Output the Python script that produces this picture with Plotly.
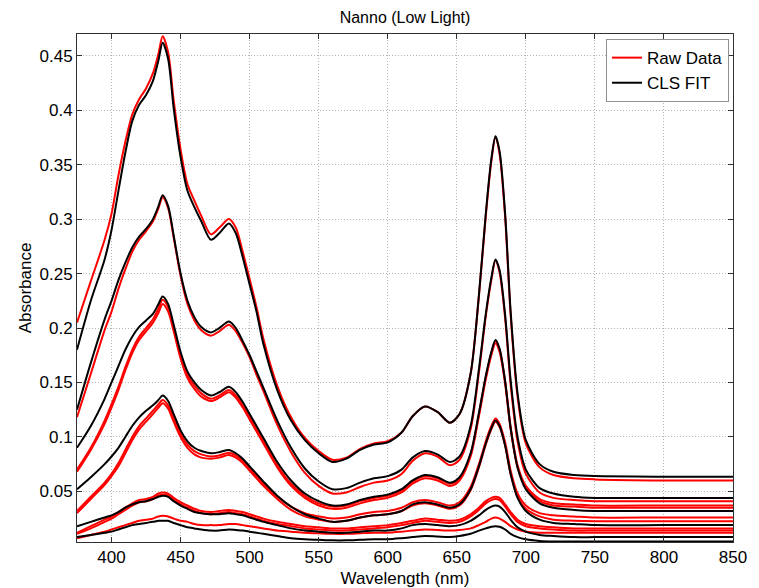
import plotly.graph_objects as go

# Wavelength knots (nm)
WL = [375, 385, 395, 400, 405, 410, 415, 420, 425, 430, 434, 437, 441, 445, 450, 455, 460, 465, 472, 478,
      485, 490, 495, 500, 505, 510, 520, 530, 540, 550, 560, 570, 580, 590, 600, 610, 618, 627, 636, 645,
      652, 660, 666, 671, 675, 678, 681, 685, 689, 694, 700, 710, 720, 735, 750, 800, 850]

# CLS fit (black)
B1 = [0.180, 0.225, 0.263, 0.290, 0.326, 0.361, 0.390, 0.405, 0.414, 0.427, 0.446, 0.462, 0.447, 0.402, 0.357, 0.326, 0.311, 0.298, 0.281, 0.287,
      0.296, 0.287, 0.265, 0.240, 0.215, 0.185, 0.143, 0.115, 0.097, 0.085, 0.077, 0.080, 0.088, 0.093, 0.095, 0.104, 0.119, 0.128, 0.123, 0.113,
      0.121, 0.158, 0.230, 0.305, 0.355, 0.376, 0.362, 0.305, 0.215, 0.140, 0.097, 0.075, 0.068, 0.065, 0.064, 0.0635, 0.0635]
B2 = [0.125, 0.168, 0.208, 0.225, 0.244, 0.260, 0.274, 0.284, 0.291, 0.300, 0.312, 0.322, 0.312, 0.285, 0.250, 0.225, 0.210, 0.201, 0.196, 0.200,
      0.206, 0.200, 0.188, 0.175, 0.160, 0.145, 0.115, 0.090, 0.071, 0.059, 0.052, 0.053, 0.058, 0.062, 0.064, 0.070, 0.081, 0.087, 0.084, 0.077,
      0.082, 0.110, 0.162, 0.213, 0.246, 0.263, 0.253, 0.212, 0.152, 0.100, 0.070, 0.053, 0.048, 0.045, 0.044, 0.044, 0.044]
B3 = [0.090, 0.110, 0.135, 0.150, 0.165, 0.180, 0.192, 0.201, 0.207, 0.213, 0.222, 0.229, 0.222, 0.203, 0.178, 0.160, 0.150, 0.143, 0.138, 0.141,
      0.146, 0.141, 0.132, 0.121, 0.110, 0.099, 0.077, 0.060, 0.048, 0.041, 0.037, 0.038, 0.042, 0.045, 0.047, 0.052, 0.060, 0.065, 0.063, 0.058,
      0.063, 0.085, 0.122, 0.156, 0.178, 0.189, 0.181, 0.151, 0.108, 0.072, 0.052, 0.039, 0.035, 0.033, 0.032, 0.032, 0.032]
B4 = [0.052, 0.063, 0.075, 0.082, 0.090, 0.100, 0.110, 0.118, 0.124, 0.129, 0.134, 0.138, 0.133, 0.121, 0.106, 0.096, 0.090, 0.087, 0.085, 0.086,
      0.088, 0.085, 0.080, 0.073, 0.066, 0.059, 0.046, 0.036, 0.029, 0.025, 0.022, 0.023, 0.026, 0.028, 0.029, 0.032, 0.038, 0.040, 0.038, 0.035,
      0.038, 0.052, 0.073, 0.094, 0.108, 0.115, 0.110, 0.092, 0.066, 0.044, 0.032, 0.024, 0.021, 0.020, 0.019, 0.019, 0.019]
B5 = [0.018, 0.022, 0.026, 0.028, 0.031, 0.035, 0.038, 0.040, 0.041, 0.043, 0.045, 0.046, 0.045, 0.041, 0.037, 0.034, 0.031, 0.030, 0.029, 0.029,
      0.030, 0.029, 0.028, 0.026, 0.024, 0.022, 0.019, 0.016, 0.014, 0.013, 0.012, 0.012, 0.013, 0.014, 0.014, 0.016, 0.019, 0.020, 0.019, 0.018,
      0.019, 0.023, 0.028, 0.033, 0.036, 0.037, 0.036, 0.031, 0.024, 0.017, 0.013, 0.010, 0.009, 0.008, 0.008, 0.008, 0.008]
B6 = [0.008, 0.010, 0.012, 0.013, 0.015, 0.017, 0.019, 0.020, 0.021, 0.022, 0.023, 0.023, 0.023, 0.021, 0.019, 0.017, 0.016, 0.015, 0.014, 0.014,
      0.015, 0.0145, 0.014, 0.013, 0.012, 0.011, 0.009, 0.007, 0.006, 0.0055, 0.005, 0.005, 0.0055, 0.006, 0.006, 0.007, 0.008, 0.009, 0.0085, 0.008,
      0.009, 0.011, 0.014, 0.016, 0.0175, 0.018, 0.0175, 0.015, 0.011, 0.008, 0.006, 0.0045, 0.004, 0.004, 0.004, 0.004, 0.004]

# Raw data (red)
R1 = [0.205, 0.243, 0.281, 0.305, 0.340, 0.371, 0.396, 0.410, 0.420, 0.434, 0.452, 0.468, 0.453, 0.409, 0.364, 0.332, 0.317, 0.303, 0.286, 0.292,
      0.300, 0.292, 0.270, 0.245, 0.219, 0.190, 0.147, 0.118, 0.099, 0.087, 0.079, 0.081, 0.089, 0.094, 0.096, 0.104, 0.119, 0.128, 0.123, 0.113,
      0.121, 0.158, 0.229, 0.303, 0.353, 0.375, 0.360, 0.302, 0.212, 0.137, 0.094, 0.072, 0.065, 0.062, 0.061, 0.060, 0.060]
R2 = [0.118, 0.158, 0.198, 0.215, 0.236, 0.254, 0.270, 0.281, 0.289, 0.298, 0.310, 0.320, 0.310, 0.283, 0.248, 0.222, 0.207, 0.198, 0.193, 0.197,
      0.203, 0.197, 0.186, 0.173, 0.157, 0.142, 0.111, 0.086, 0.067, 0.055, 0.048, 0.049, 0.054, 0.058, 0.060, 0.066, 0.078, 0.085, 0.082, 0.074,
      0.079, 0.107, 0.159, 0.211, 0.244, 0.262, 0.251, 0.209, 0.148, 0.096, 0.066, 0.049, 0.044, 0.042, 0.041, 0.041, 0.041]
R3a = [0.070, 0.090, 0.115, 0.130, 0.146, 0.164, 0.180, 0.192, 0.200, 0.208, 0.218, 0.226, 0.219, 0.200, 0.175, 0.157, 0.147, 0.140, 0.135, 0.138,
       0.143, 0.138, 0.129, 0.118, 0.107, 0.096, 0.074, 0.057, 0.046, 0.039, 0.036, 0.037, 0.041, 0.044, 0.046, 0.051, 0.059, 0.064, 0.062, 0.057,
       0.062, 0.084, 0.121, 0.155, 0.177, 0.188, 0.180, 0.151, 0.109, 0.074, 0.055, 0.043, 0.039, 0.038, 0.037, 0.037, 0.037]
R3b = [0.068, 0.088, 0.112, 0.127, 0.143, 0.161, 0.177, 0.189, 0.197, 0.205, 0.214, 0.222, 0.215, 0.197, 0.172, 0.154, 0.144, 0.137, 0.133, 0.136,
       0.141, 0.136, 0.127, 0.116, 0.105, 0.094, 0.072, 0.055, 0.044, 0.037, 0.034, 0.035, 0.039, 0.042, 0.044, 0.049, 0.057, 0.062, 0.060, 0.055,
       0.060, 0.082, 0.119, 0.153, 0.175, 0.186, 0.178, 0.149, 0.107, 0.072, 0.053, 0.041, 0.037, 0.036, 0.035, 0.035, 0.035]
R4a = [0.032, 0.045, 0.058, 0.066, 0.076, 0.088, 0.100, 0.110, 0.117, 0.124, 0.130, 0.134, 0.129, 0.117, 0.103, 0.093, 0.087, 0.084, 0.082, 0.083,
       0.0855, 0.083, 0.078, 0.071, 0.064, 0.057, 0.045, 0.036, 0.030, 0.027, 0.025, 0.026, 0.029, 0.031, 0.032, 0.035, 0.040, 0.042, 0.040, 0.037,
       0.040, 0.054, 0.075, 0.096, 0.110, 0.117, 0.112, 0.095, 0.069, 0.048, 0.037, 0.030, 0.028, 0.027, 0.026, 0.026, 0.026]
R4b = [0.030, 0.043, 0.056, 0.064, 0.073, 0.085, 0.097, 0.107, 0.114, 0.121, 0.127, 0.131, 0.126, 0.114, 0.100, 0.090, 0.084, 0.081, 0.080, 0.081,
       0.0833, 0.081, 0.076, 0.069, 0.062, 0.055, 0.043, 0.033, 0.027, 0.024, 0.022, 0.023, 0.026, 0.028, 0.029, 0.032, 0.037, 0.039, 0.037, 0.034,
       0.037, 0.051, 0.072, 0.093, 0.107, 0.114, 0.109, 0.092, 0.066, 0.045, 0.034, 0.027, 0.024, 0.023, 0.0225, 0.0225, 0.0225]
R5a = [0.012, 0.018, 0.024, 0.027, 0.031, 0.035, 0.039, 0.042, 0.043, 0.045, 0.048, 0.049, 0.048, 0.044, 0.040, 0.037, 0.034, 0.032, 0.031, 0.032,
       0.033, 0.032, 0.031, 0.029, 0.027, 0.025, 0.022, 0.020, 0.018, 0.017, 0.016, 0.016, 0.017, 0.018, 0.019, 0.021, 0.023, 0.025, 0.024, 0.023,
       0.024, 0.029, 0.035, 0.041, 0.044, 0.045, 0.044, 0.038, 0.031, 0.024, 0.020, 0.018, 0.017, 0.016, 0.016, 0.016, 0.016]
R5b = [0.011, 0.016, 0.022, 0.025, 0.029, 0.033, 0.037, 0.040, 0.041, 0.043, 0.046, 0.047, 0.046, 0.042, 0.038, 0.035, 0.032, 0.030, 0.029, 0.030,
       0.031, 0.030, 0.029, 0.027, 0.025, 0.023, 0.020, 0.018, 0.016, 0.015, 0.014, 0.014, 0.015, 0.016, 0.017, 0.019, 0.021, 0.023, 0.022, 0.021,
       0.022, 0.027, 0.033, 0.039, 0.042, 0.043, 0.042, 0.036, 0.029, 0.022, 0.018, 0.016, 0.015, 0.014, 0.014, 0.014, 0.014]
R6 = [0.007, 0.010, 0.013, 0.015, 0.017, 0.019, 0.021, 0.023, 0.024, 0.025, 0.027, 0.0275, 0.027, 0.025, 0.023, 0.022, 0.020, 0.019, 0.019, 0.019,
      0.020, 0.020, 0.019, 0.018, 0.017, 0.016, 0.014, 0.013, 0.012, 0.0115, 0.011, 0.011, 0.0115, 0.012, 0.012, 0.013, 0.014, 0.015, 0.0145, 0.014,
      0.0145, 0.016, 0.019, 0.022, 0.025, 0.026, 0.025, 0.022, 0.018, 0.015, 0.013, 0.012, 0.012, 0.012, 0.012, 0.012, 0.012]

RAW = [R1, R2, R3a, R3b, R4a, R4b, R5a, R5b, R6]
FIT = [B1, B2, B3, B4, B5, B6]

X_TICKS = [400, 450, 500, 550, 600, 650, 700, 750, 800, 850]
Y_TICKS = [0.05, 0.1, 0.15, 0.2, 0.25, 0.3, 0.35, 0.4, 0.45]
Y_TICKTEXT = ["0.05", "0.1", "0.15", "0.2", "0.25", "0.3", "0.35", "0.4", "0.45"]

FONT = "Liberation Sans, Arial, sans-serif"

fig = go.Figure()
for i, r in enumerate(RAW):
    fig.add_trace(go.Scatter(x=WL, y=r, mode="lines", name="Raw Data",
                             line=dict(color="#ff0000", width=2, shape="spline", smoothing=0.8),
                             showlegend=(i == 0), legendrank=1))
for i, b in enumerate(FIT):
    fig.add_trace(go.Scatter(x=WL, y=b, mode="lines", name="CLS FIT",
                             line=dict(color="#000000", width=2, shape="spline", smoothing=0.8),
                             showlegend=(i == 0), legendrank=2))

axis_common = dict(showline=True, linecolor="#303030", linewidth=1, mirror="ticks",
                   ticks="inside", ticklen=5, tickcolor="#303030",
                   showgrid=True, gridcolor="#b4b4b4", griddash="1px,2px", gridwidth=1,
                   zeroline=False, tickfont=dict(family=FONT, size=17, color="black"))

fig.update_layout(
    width=759, height=588,
    margin=dict(l=77, r=26, t=34, b=46, autoexpand=False),
    paper_bgcolor="white", plot_bgcolor="white",
    title=dict(text="Nanno (Low Light)", x=0.5, xref="paper", xanchor="center",
               y=1 - 17 / 588, yanchor="middle", yref="container",
               font=dict(family=FONT, size=16, color="black")),
    xaxis=dict(range=[375, 850], tickvals=X_TICKS, automargin=False,
               title=dict(text="Wavelength (nm)", standoff=16,
                          font=dict(family=FONT, size=17, color="black")),
               **axis_common),
    yaxis=dict(range=[0.0035, 0.47], tickvals=Y_TICKS, ticktext=Y_TICKTEXT, automargin=False,
               title=dict(text="Absorbance", standoff=3,
                          font=dict(family=FONT, size=17, color="black")),
               **axis_common),
    legend=dict(x=0.9939, y=0.99, xanchor="right", yanchor="top",
                bgcolor="white", bordercolor="#909090", borderwidth=1,
                font=dict(family=FONT, size=17, color="black"),
                tracegroupgap=0, itemwidth=30),
    showlegend=True,
)

fig.write_html("out.html")
